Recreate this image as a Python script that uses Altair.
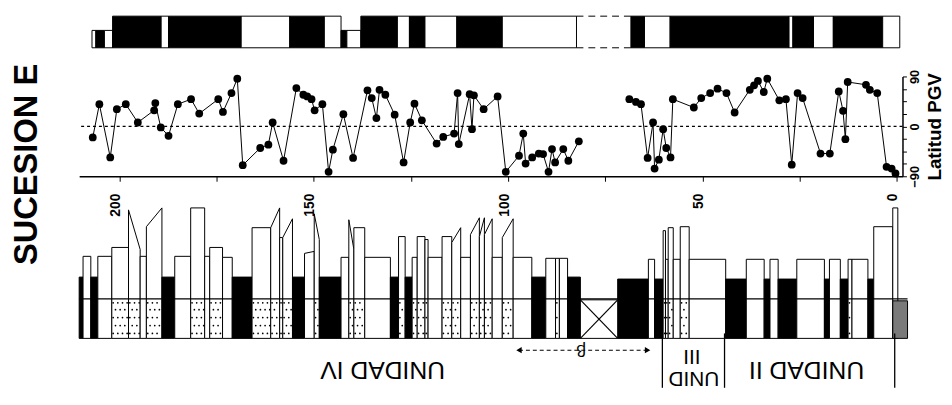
import altair as alt
import pandas as pd

FONT = "Liberation Sans"

# ---------------- polarity zones (metres) ----------------
pol_top = [207.1, 206.1, 203.9, 201.8, 189.3, 187.4, 168.7, 156.2, 147.3, 143.0, 141.5, 137.9,
           128.5, 125.4, 121.4, 113.2, 101.5, 68.4, 64.9, 58.3, 27.7, 26.7, 21.4, 16.3, 3.6]
pol_base = [206.1, 203.9, 201.8, 189.3, 187.4, 168.7, 156.2, 147.3, 143.0, 141.5, 137.9, 128.5,
            125.4, 121.4, 113.2, 101.5, 82.4, 64.9, 58.3, 27.7, 26.7, 21.4, 16.3, 3.6, -0.8]
pol_sign = ["R", "N", "R", "N", "R", "N", "R", "N", "R", "N", "R", "N", "R",
            "N", "R", "N", "R", "N", "R", "N", "R", "N", "R", "N", "R"]
pol_short = [True, True, True, False, False, False, False, False, False, True, True, False, False,
             False, False, False, False, False, False, False, False, False, False, False, False]
pol_gap = [82.4, 68.4]

# ---------------- VGP latitude ----------------
pgv_m1 = [206.9, 205.2, 202.4, 200.7, 198.4, 195.3, 191.1, 190.8, 189.4, 187.4,
          185.0, 181.6, 179.5, 174.6, 173.4, 171.2, 169.7, 168.3, 163.8, 161.7,
          160.6, 157.8, 154.5, 152.7, 151.7, 150.6, 149.8, 147.8, 146.2, 145.1,
          142.4, 139.9, 136.2, 135.1, 133.9, 133.1, 131.6, 129.2, 126.9, 125.2,
          124.1, 122.2, 118.4, 116.7, 113.9, 113.0, 112.7, 109.9, 109.3, 108.8,
          106.3, 102.7, 100.6, 97.2, 96.1, 95.5, 93.8, 92.1, 91.0, 89.6,
          88.7, 87.9, 85.8, 84.5, 81.8]
pgv_lat1 = [-20, 40, -56, 31, 40, 7, 29, 42, -2, -17,
            40, 49, 23, 49, 26, 60, 86, -70, -39, -33,
            7, -62, 69, 57, 54, 49, 29, 40, -82, -42,
            22, -57, 65, 51, 15, 66, 57, 21, -65, 7,
            41, 11, -31, -19, -13, 60, -32, 58, -5, 56,
            31, 54, -82, -53, -13, -67, -56, -49, -50, -82,
            -41, -65, -41, -62, -27]
pgv_m2 = [68.8, 67.1, 65.8, 64.1, 62.7, 62.3, 61.2, 60.1, 59.3, 58.2,
          57.6, 52.2, 50.3, 48.0, 46.1, 43.8, 41.7, 37.8, 36.7, 35.7,
          34.2, 33.3, 30.2, 28.5, 27.0, 25.5, 24.2, 19.6, 17.2, 14.9,
          13.8, 13.2, 12.6, 7.9, 6.9, 5.0, 2.6, 1.3, 0.3]
pgv_lat2 = [49, 44, 40, -57, 7, -76, -60, -5, -39, -56,
            49, 34, 51, 60, 68, 60, 25, 66, 74, 82,
            62, 86, 47, 49, -69, 60, 51, -49, -49, 63,
            28, -23, 80, 75, 66, 60, -73, -76, -85]

# ---------------- lithological column ----------------
bed_top = [210.4, 209.4, 207.4, 205.6, 202.0, 197.7, 194.7, 193.1, 189.1, 185.8,
           181.7, 178.1, 176.8, 173.5, 171.0, 165.9, 161.1, 158.8, 158.0, 155.5,
           152.4, 149.9, 148.6, 143.0, 141.0, 139.7, 136.9, 130.3, 128.2, 126.5,
           124.7, 123.4, 121.4, 120.6, 117.0, 114.5, 112.2, 109.7, 107.4, 106.1,
           104.1, 101.5, 98.7, 93.9, 90.3, 87.8, 86.8, 84.7, 71.8, 63.9,
           62.3, 60.1, 59.5, 58.8, 57.5, 55.7, 53.4, 44.0, 38.7, 34.1,
           32.6, 30.5, 25.7, 18.6, 17.3, 14.5, 12.5, 11.5, 7.4, 5.9,
           1.0]
bed_base = [209.4, 207.4, 205.6, 202.0, 197.7, 194.7, 193.1, 189.1, 185.8, 181.7,
            178.1, 176.8, 173.5, 171.0, 165.9, 161.1, 158.8, 158.0, 155.5, 152.4,
            149.9, 148.6, 143.0, 141.0, 139.7, 136.9, 130.3, 128.2, 126.5, 124.7,
            123.4, 121.4, 120.6, 117.0, 114.5, 112.2, 109.7, 107.4, 106.1, 104.1,
            101.5, 98.7, 93.9, 90.3, 87.8, 86.8, 84.7, 81.4, 63.9, 62.3,
            60.1, 59.5, 58.8, 57.5, 55.7, 53.4, 44.0, 38.7, 34.1, 32.6,
            30.5, 25.7, 18.6, 17.3, 14.5, 12.5, 11.5, 7.4, 5.9, 1.0,
            -0.3]
bed_h_top = [62, 83, 62, 83, 92, 130, 83, 113, 62, 83,
             132, 83, 92, 82, 62, 112, 112, 102, 102, 62,
             86, 126, 62, 82, 120, 112, 82, 62, 103, 62,
             82, 103, 100, 82, 103, 97, 82, 105, 103, 105,
             82, 102, 82, 62, 81, 81, 81, 62, 60, 80,
             60, 109, 80, 112, 80, 113, 80, 60, 80, 60,
             80, 60, 80, 60, 80, 60, 80, 80, 60, 113,
             132]
bed_h_base = [62, 83, 62, 83, 92, 90, 83, 132, 62, 83,
              132, 83, 92, 82, 62, 112, 132, 102, 121, 62,
              88, 100, 62, 82, 90, 112, 82, 62, 103, 62,
              82, 103, 100, 82, 103, 112, 82, 122, 122, 121,
              82, 121, 82, 62, 81, 81, 81, 62, 60, 80,
              60, 109, 80, 112, 80, 113, 80, 60, 80, 60,
              80, 60, 80, 60, 80, 60, 80, 80, 60, 113,
              132]
bed_lith = ["M", "S", "M", "S", "S", "S", "S", "S", "M", "S",
            "S", "S", "S", "S", "M", "S", "S", "S", "S", "M",
            "S", "S", "M", "S", "S", "S", "S", "M", "S", "M",
            "S", "S", "S", "S", "S", "S", "S", "S", "S", "S",
            "S", "S", "S", "M", "S", "S", "S", "M", "M", "S",
            "M", "S", "S", "S", "S", "S", "S", "M", "S", "M",
            "S", "M", "S", "M", "S", "M", "S", "S", "M", "S",
            "S"]
bed_strip = ["B", "W", "B", "W", "D", "D", "W", "D", "B", "W",
             "D", "W", "D", "W", "B", "D", "D", "D", "D", "B",
             "W", "D", "B", "W", "D", "D", "W", "B", "D", "B",
             "D", "D", "D", "W", "D", "D", "W", "D", "D", "D",
             "W", "D", "W", "B", "W", "D", "W", "B", "B", "W",
             "B", "D", "D", "D", "W", "D", "W", "B", "W", "B",
             "W", "B", "W", "B", "W", "B", "D", "W", "B", "W",
             "Z"]
box_kind = ["X", "Z"]
box_top = [81.4, 1.0]
box_base = [71.8, -2.8]
box_h = [39, 38]
strip_line = 40

# ---------------- annotations ----------------
unit_label = ["UNIDAD IV", "UNIDAD II"]
unit_m = [132.3, 23.2]
unid3_label = ["UNID", "III"]
unid3_m = [52.2, 52.7]
unit_bounds = [60.3, 44.3, 0.5]
beta_range = [97.2, 64.1]
beta_m = [81.2]

# colours
POL_COL = {"N": "black", "R": "white"}
LITH_COL = {"M": "black", "S": "white"}
BOX_COL = {"X": "white", "Z": "#7a7a7a"}

# ================= build tables =================
pol_df = pd.DataFrame({"t": pol_top, "b": pol_base,
                       "col": [POL_COL[s] for s in pol_sign],
                       "ytop": [0.55 if s else 1.0 for s in pol_short], "ybot": 0.0})
gap_df = pd.DataFrame({"t": [pol_gap[0]] * 2, "b": [pol_gap[1]] * 2, "yv": [0.0, 1.0]})

pgv_df = pd.concat([
    pd.DataFrame({"m": pgv_m1, "lat": pgv_lat1, "seg": "a"}),
    pd.DataFrame({"m": pgv_m2, "lat": pgv_lat2, "seg": "b"}),
])
zero_df = pd.DataFrame({"z": [0]})

rows = []
for i, (t, b, ht, hb, li) in enumerate(zip(bed_top, bed_base, bed_h_top, bed_h_base, bed_lith)):
    rows.append({"bed": i, "m": t, "h": ht, "h0": 0, "col": LITH_COL[li]})
    rows.append({"bed": i, "m": b, "h": hb, "h0": 0, "col": LITH_COL[li]})
bed_df = pd.DataFrame(rows)

box_df = pd.DataFrame({"kind": box_kind, "t": box_top, "b": box_base, "h": box_h, "h0": 0,
                       "col": [BOX_COL[k] for k in box_kind]})
xb = box_df[box_df.kind == "X"].iloc[0]
diag_df = pd.DataFrame({"t": [xb.t, xb.t], "b": [xb.b, xb.b],
                        "h1": [0, xb.h], "h2": [xb.h, 0]})
line_df = pd.DataFrame({"t": [bed_top[0]], "b": [box_base[-1]], "h": [strip_line]})

# stipple texture for the sandstone strip
dots = []
for t, b, s in zip(bed_top, bed_base, bed_strip):
    if s != "D":
        continue
    for r, hy in enumerate([5, 13, 21, 29, 36]):
        m = t - (0.35 if r % 2 == 0 else 0.95)
        while m > b + 0.2:
            dots.append({"m": m, "h": hy})
            m -= 1.2
dot_df = pd.DataFrame(dots)

# ================= scales / axes =================
xs = alt.Scale(domain=[210.4, -1.5], nice=False, zero=False)
xa = alt.Axis(title=None, values=list(range(0, 201, 25)),
              labelExpr="datum.value % 50 == 0 ? datum.label : ''",
              labelAngle=270, labelAlign="right", labelBaseline="alphabetic",
              labelFont=FONT, labelFontSize=14, labelFontWeight="bold", labelColor="black",
              labelPadding=12, labelFlush=False, labelOverlap=False,
              tickSize=5, tickColor="black", domainColor="black", domainWidth=1.5,
              offset=-217, grid=False)


def X(f):
    return alt.X(f, type="quantitative", scale=xs, axis=xa)


ys_pol = alt.Scale(domain=[0, 1], range=[38, 6], nice=False, zero=False)
ys_pgv = alt.Scale(domain=[-90, 90], range=[168, 67], nice=False, zero=False)
ys_col = alt.Scale(domain=[0, 135], range=[332, 197], nice=False, zero=False)

ya = alt.Axis(orient="right", title="Latitud PGV",
              values=[-90, -67.5, -45, -22.5, 0, 22.5, 45, 67.5, 90],
              labelExpr="datum.value % 90 == 0 ? datum.label : ''",
              labelAngle=270, labelAlign="center", labelBaseline="top", labelPadding=2,
              labelFont=FONT, labelFontSize=13, labelFontWeight="bold", labelColor="black",
              tickSize=4, tickColor="black", domainColor="black", domainWidth=1.5,
              titleAngle=270, titleBaseline="top", titleFont=FONT, titleFontSize=19,
              titleFontWeight="bold", titleColor="black", titlePadding=4, grid=False)

# ================= polarity bar =================
pol_rect = alt.Chart(pol_df).mark_rect(stroke="black", strokeWidth=1).encode(
    x=X("t"), x2="b",
    y=alt.Y("ytop:Q", scale=ys_pol, axis=None), y2="ybot",
    fill=alt.Fill("col:N", scale=None),
)
pol_gapr = alt.Chart(gap_df).mark_rule(color="black", strokeWidth=1, strokeDash=[7, 5]).encode(
    x=X("t"), x2="b", y=alt.Y("yv:Q", scale=ys_pol, axis=None),
)
pol_group = alt.layer(pol_rect, pol_gapr)

# ================= VGP panel =================
zero_rule = alt.Chart(zero_df).mark_rule(color="black", strokeWidth=1.3, strokeDash=[3, 3]).encode(
    y=alt.Y("z:Q", scale=ys_pgv, axis=ya),
)
pgv_line = alt.Chart(pgv_df).mark_line(color="black", strokeWidth=1).encode(
    x=X("m"), y=alt.Y("lat:Q", scale=ys_pgv, axis=ya), detail="seg:N",
)
pgv_pts = alt.Chart(pgv_df).mark_circle(color="black", size=62, opacity=1).encode(
    x=X("m"), y=alt.Y("lat:Q", scale=ys_pgv, axis=ya),
)
pgv_group = alt.layer(zero_rule, pgv_line, pgv_pts)

# ================= column =================
beds = alt.Chart(bed_df).mark_area(stroke="black", strokeWidth=1, interpolate="linear").encode(
    x=X("m"), y=alt.Y("h:Q", scale=ys_col, axis=None), y2="h0", detail="bed:N",
    fill=alt.Fill("col:N", scale=None),
)
boxes = alt.Chart(box_df).mark_rect(stroke="black", strokeWidth=1).encode(
    x=X("t"), x2="b", y=alt.Y("h:Q", scale=ys_col, axis=None), y2="h0",
    fill=alt.Fill("col:N", scale=None),
)
diags = alt.Chart(diag_df).mark_rule(color="black", strokeWidth=1.2).encode(
    x=X("t"), x2="b", y=alt.Y("h1:Q", scale=ys_col, axis=None), y2="h2",
)
mid = alt.Chart(line_df).mark_rule(color="black", strokeWidth=1.3).encode(
    x=X("t"), x2="b", y=alt.Y("h:Q", scale=ys_col, axis=None),
)
dotl = alt.Chart(dot_df).mark_circle(color="black", size=3, opacity=1).encode(
    x=X("m"), y=alt.Y("h:Q", scale=ys_col, axis=None),
)
col_group = alt.layer(beds, boxes, diags, mid, dotl)

# ================= annotations =================
unit_txt = alt.Chart(pd.DataFrame({"m": unit_m, "txt": unit_label})).mark_text(
    angle=180, font=FONT, fontSize=25, color="black", align="center", baseline="middle"
).encode(x=X("m"), y=alt.value(364), text="txt:N")
unid_df = pd.DataFrame({"m": unid3_m, "txt": unid3_label})
unid_a = alt.Chart(unid_df.iloc[[0]]).mark_text(
    angle=180, font=FONT, fontSize=21, color="black", align="center", baseline="middle"
).encode(x=X("m"), y=alt.value(372), text="txt:N")
unid_b = alt.Chart(unid_df.iloc[[1]]).mark_text(
    angle=180, font=FONT, fontSize=21, color="black", align="center", baseline="middle"
).encode(x=X("m"), y=alt.value(350), text="txt:N")
seps = alt.Chart(pd.DataFrame({"m": unit_bounds})).mark_rule(color="black", strokeWidth=1.3).encode(
    x=X("m"), y=alt.value(327), y2=alt.value(382),
)
beta_line = alt.Chart(pd.DataFrame({"t": [beta_range[0]], "b": [beta_range[1]]})).mark_rule(
    color="black", strokeWidth=1.2, strokeDash=[4, 3]
).encode(x=X("t"), x2="b", y=alt.value(344))
beta_heads = alt.Chart(pd.DataFrame({"m": beta_range, "dir": ["triangle-left", "triangle-right"]})).mark_point(
    filled=True, color="black", size=40, opacity=1
).encode(
    x=X("m"), y=alt.value(344),
    shape=alt.Shape("dir:N", scale=None),
)
beta_txt = alt.Chart(pd.DataFrame({"m": beta_m, "txt": ["β"]})).mark_text(
    angle=180, font=FONT, fontSize=17, color="black", align="center", baseline="middle"
).encode(x=X("m"), y=alt.value(344), text="txt:N")
title_txt = alt.Chart(pd.DataFrame({"txt": ["SUCESION E"]})).mark_text(
    angle=270, font=FONT, fontSize=33, fontWeight="bold", color="black", align="center", baseline="middle"
).encode(x=alt.value(-53), y=alt.value(156), text="txt:N")

chart = alt.layer(
    pol_group, pgv_group, col_group,
    unit_txt, unid_a, unid_b, seps, beta_line, beta_heads, beta_txt, title_txt,
).resolve_scale(y="independent").properties(
    width=833, height=385, padding={"left": 3, "top": 0, "right": 0, "bottom": 0}, background="white"
).configure_view(stroke=None)

chart.save("out.html", embed_options={"renderer": "svg", "actions": False})
